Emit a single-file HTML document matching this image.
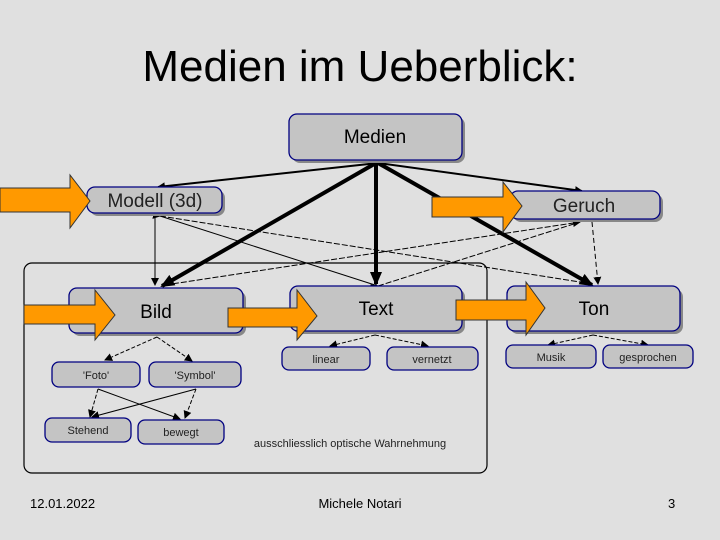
<!DOCTYPE html>
<html><head><style>
body{margin:0;background:#e0e0e0;}
svg{display:block;font-family:"Liberation Sans",sans-serif;}
</style></head><body>
<svg width="720" height="540" viewBox="0 0 720 540" xmlns="http://www.w3.org/2000/svg">
<defs>
<marker id="a" markerWidth="8" markerHeight="8" refX="7" refY="4" orient="auto" markerUnits="userSpaceOnUse"><path d="M0,0 L8,4 L0,8z" fill="#000"/></marker>
<marker id="ab" markerWidth="14" markerHeight="12" refX="12" refY="6" orient="auto" markerUnits="userSpaceOnUse"><path d="M0,0 L14,6 L0,12z" fill="#000"/></marker>
</defs>
<rect width="720" height="540" fill="#e0e0e0"/>
<text x="360" y="81" font-size="44" text-anchor="middle" fill="#000">Medien im Ueberblick:</text>
<rect x="24" y="263" width="463" height="210" rx="8" fill="none" stroke="#000" stroke-width="1.2"/>
<g stroke="#000" stroke-width="1" fill="none">
<line x1="155" y1="217" x2="155" y2="285" marker-end="url(#a)" marker-start="url(#a)"/>
<line x1="592" y1="222" x2="598" y2="284" marker-end="url(#a)" marker-start="url(#a)" stroke-dasharray="5,3"/>
<path d="M160 216 L580 282" stroke-dasharray="6,2" marker-start="url(#a)"/>
<path d="M160 216 L378 286"/>
<path d="M165 285 L580 222" stroke-dasharray="6,2" marker-end="url(#a)"/>
<path d="M378 286 L580 222" stroke-dasharray="6,2" marker-start="url(#a)"/>
<line x1="378" y1="163" x2="158" y2="187" stroke-width="2" marker-end="url(#a)"/>
<line x1="378" y1="163" x2="582" y2="191" stroke-width="2" marker-end="url(#a)"/>
<path d="M157 337 L105 360" marker-end="url(#a)" stroke-dasharray="4,2"/>
<path d="M157 337 L192 361" marker-end="url(#a)" stroke-dasharray="4,2"/>
<path d="M98 389 L90 417" marker-end="url(#a)" stroke-dasharray="4,2"/>
<path d="M98 389 L180 419" marker-end="url(#a)"/>
<path d="M196 389 L92 417" marker-end="url(#a)"/>
<path d="M196 389 L185 418" marker-end="url(#a)" stroke-dasharray="4,2"/>
<path d="M375 335 L330 346" marker-end="url(#a)" stroke-dasharray="4,2"/>
<path d="M375 335 L428 346" marker-end="url(#a)" stroke-dasharray="4,2"/>
<path d="M593 335 L548 345" marker-end="url(#a)" stroke-dasharray="4,2"/>
<path d="M593 335 L648 345" marker-end="url(#a)" stroke-dasharray="4,2"/>
</g>
<g stroke="#000" stroke-width="4">
<line x1="376" y1="163" x2="162" y2="286" marker-end="url(#ab)"/>
<line x1="376" y1="163" x2="376" y2="284" marker-end="url(#ab)"/>
<line x1="378" y1="163" x2="592" y2="285" marker-end="url(#ab)"/>
</g>
<g fill="#c4c4c4" stroke="#000080" stroke-width="1.3">
<rect x="292" y="117" width="173" height="46" rx="8" fill="#888" stroke="none"/>
<rect x="289" y="114" width="173" height="46" rx="8"/>
<rect x="90" y="190" width="135" height="26" rx="8" fill="#888" stroke="none"/>
<rect x="87" y="187" width="135" height="26" rx="8"/>
<rect x="513" y="194" width="150" height="28" rx="8" fill="#888" stroke="none"/>
<rect x="510" y="191" width="150" height="28" rx="8"/>
<rect x="72" y="291" width="174" height="45" rx="8" fill="#888" stroke="none"/>
<rect x="69" y="288" width="174" height="45" rx="8"/>
<rect x="293" y="289" width="172" height="45" rx="8" fill="#888" stroke="none"/>
<rect x="290" y="286" width="172" height="45" rx="8"/>
<rect x="510" y="289" width="173" height="45" rx="8" fill="#888" stroke="none"/>
<rect x="507" y="286" width="173" height="45" rx="8"/>
<rect x="282" y="347" width="88" height="23" rx="7"/>
<rect x="387" y="347" width="91" height="23" rx="7"/>
<rect x="506" y="345" width="90" height="23" rx="7"/>
<rect x="603" y="345" width="90" height="23" rx="7"/>
<rect x="52" y="362" width="88" height="25" rx="7"/>
<rect x="149" y="362" width="92" height="25" rx="7"/>
<rect x="45" y="418" width="86" height="24" rx="7"/>
<rect x="138" y="420" width="86" height="24" rx="7"/>
</g>
<g fill="#ff9900" stroke="#333" stroke-width="1">
<path d="M0 188 L70 188 L70 175 L90 201 L70 228 L70 212 L0 212z"/>
<path d="M432 197 L503 197 L503 182 L522 206 L503 232 L503 217 L432 217z"/>
<path d="M24 305 L95 305 L95 290 L115 315 L95 340 L95 324 L24 324z"/>
<path d="M228 308 L297 308 L297 290 L317 316 L297 340 L297 327 L228 327z"/>
<path d="M456 300 L526 300 L526 282 L545 308 L526 335 L526 320 L456 320z"/>
</g>
<g fill="#000" text-anchor="middle">
<text x="375" y="143" font-size="19">Medien</text>
<text x="155" y="207" font-size="19" fill="#222">Modell (3d)</text>
<text x="584" y="212" font-size="19" fill="#222">Geruch</text>
<text x="156" y="318" font-size="19">Bild</text>
<text x="376" y="315" font-size="19">Text</text>
<text x="594" y="315" font-size="19">Ton</text>
<g font-size="11" fill="#222">
<text x="326" y="363">linear</text>
<text x="432" y="363">vernetzt</text>
<text x="551" y="361">Musik</text>
<text x="648" y="361">gesprochen</text>
<text x="96" y="379">'Foto'</text>
<text x="195" y="379">'Symbol'</text>
<text x="88" y="434">Stehend</text>
<text x="181" y="436">bewegt</text>
</g>
<text x="350" y="447" font-size="11" fill="#222">ausschliesslich optische Wahrnehmung</text>
</g>
<g font-size="13" fill="#000">
<text x="30" y="508">12.01.2022</text>
<text x="360" y="508" text-anchor="middle">Michele Notari</text>
<text x="668" y="508">3</text>
</g>
</svg>
</body></html>
